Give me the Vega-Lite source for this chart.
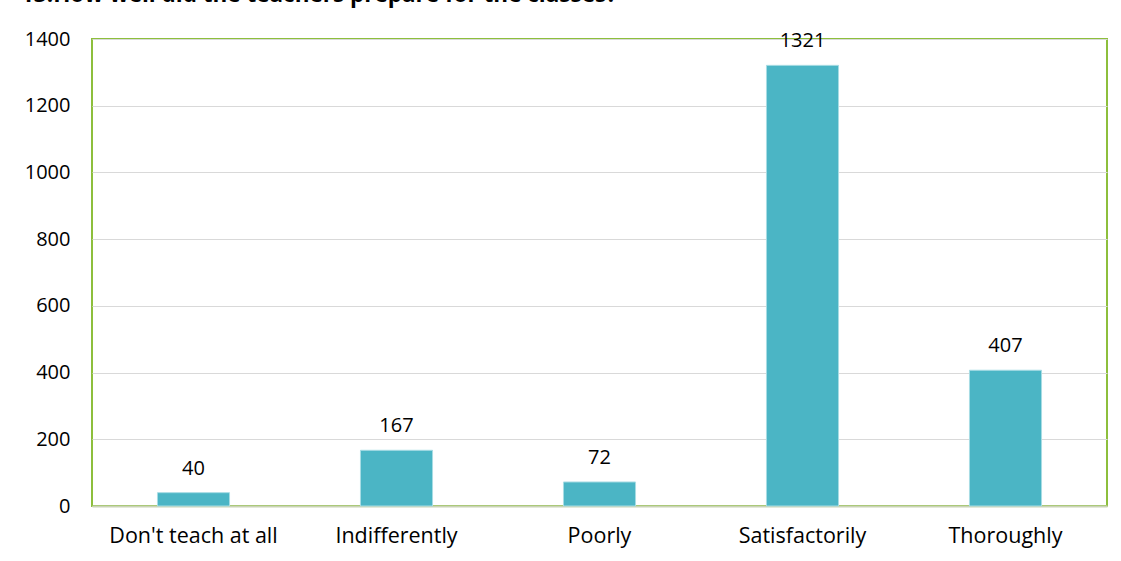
{
  "$schema": "https://vega.github.io/schema/vega-lite/v6.json",
  "autosize": {"type": "none"},
  "padding": {"left": 92, "top": 39, "right": 14, "bottom": 55},
  "width": 1015,
  "height": 467,
  "background": "white",
  "title": {
    "text": "13.How well did the teachers prepare for the classes?",
    "anchor": "start",
    "frame": "group",
    "orient": "top",
    "baseline": "alphabetic",
    "dx": -71,
    "offset": 5,
    "font": "Open Sans",
    "fontSize": 22.5,
    "fontWeight": "bold",
    "color": "#000000"
  },
  "data": {
    "values": [
      {"answer": "Don't teach at all", "count": 40},
      {"answer": "Indifferently", "count": 167},
      {"answer": "Poorly", "count": 72},
      {"answer": "Satisfactorily", "count": 1321},
      {"answer": "Thoroughly", "count": 407}
    ]
  },
  "encoding": {
    "x": {
      "field": "answer",
      "type": "nominal",
      "sort": null,
      "title": null,
      "scale": {"paddingInner": 0.645, "paddingOuter": 0.3225},
      "axis": {
        "labelAngle": 0,
        "labelFont": "Open Sans",
        "labelFontSize": 21.5,
        "labelColor": "#000000",
        "labelPadding": 19,
        "ticks": false,
        "domainColor": "#C9D3B5",
        "domainWidth": 2,
        "grid": false
      }
    },
    "y": {
      "field": "count",
      "type": "quantitative",
      "title": null,
      "scale": {"domain": [0, 1400], "nice": false},
      "axis": {
        "values": [0, 200, 400, 600, 800, 1000, 1200, 1400],
        "format": "d",
        "labelFont": "Open Sans",
        "labelFontSize": 20,
        "labelColor": "#000000",
        "labelPadding": 22,
        "ticks": false,
        "domain": false,
        "grid": true,
        "gridColor": "#D9D9D9",
        "gridWidth": 1
      }
    }
  },
  "layer": [
    {
      "mark": {"type": "bar", "color": "#4BB5C5", "stroke": "#A8DCE4", "strokeWidth": 1}
    },
    {
      "mark": {"type": "text", "baseline": "alphabetic", "dy": -18, "font": "Open Sans", "fontSize": 20, "color": "#000000"},
      "encoding": {"text": {"field": "count", "type": "quantitative", "format": "d"}}
    }
  ],
  "config": {
    "view": {"stroke": "#8DBF3C", "strokeWidth": 2}
  }
}
